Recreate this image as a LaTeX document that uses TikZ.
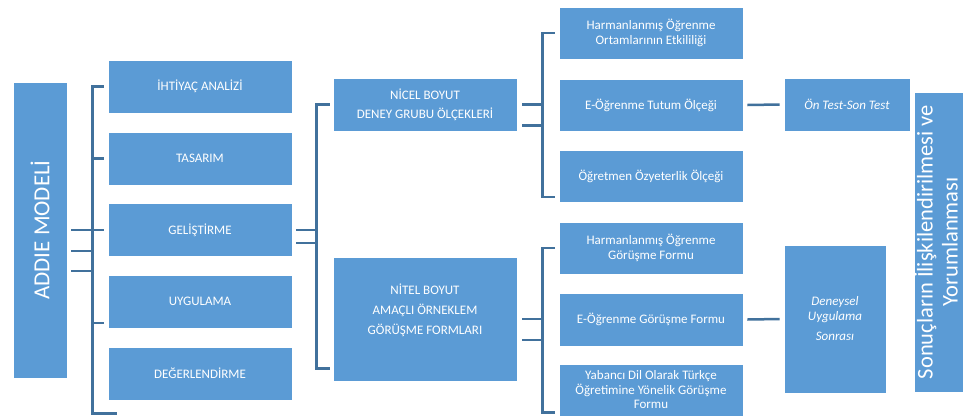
\documentclass[tikz,border=0pt]{standalone}
\usepackage{fontspec}
\setmainfont{Carlito}
\usetikzlibrary{calc}
\definecolor{boxblue}{HTML}{5B9BD5}
\definecolor{lineblue}{HTML}{41719C}
\begin{document}
\begin{tikzpicture}[x=1pt,y=1pt,
  box/.style={fill=boxblue, draw=white, line width=0.6pt, text=white, inner sep=2pt,
    align=center, font=\fontsize{13}{15}\selectfont},
  conn/.style={draw=lineblue, line width=2.5pt}]
\fill[white] (0,0) rectangle (963,-416);
\useasboundingbox (0,0) rectangle (963,-416);

% left column
\node[box, rotate=90, minimum width=296pt, minimum height=54pt,
  font=\fontsize{23}{26}\selectfont] (addie) at (40,-230) {ADDIE MODELİ};
\node[box, minimum width=184pt, minimum height=53pt] (ihtiyac) at (200,-86.5) {İHTİYAÇ ANALİZİ};
\node[box, minimum width=184pt, minimum height=53pt] (tasarim) at (200,-158.5) {TASARIM};
\node[box, minimum width=184pt, minimum height=53pt] (gelistirme) at (200,-230) {GELİŞTİRME};
\node[box, minimum width=184pt, minimum height=53pt] (uygulama) at (200,-301.5) {UYGULAMA};
\node[box, minimum width=184pt, minimum height=53pt] (degerlendirme) at (200,-373.5) {DEĞERLENDİRME};

% middle column
\node[box, minimum width=184pt, minimum height=53pt, font=\fontsize{13}{19}\selectfont]
  (nicel) at (425,-104.5) {NİCEL BOYUT\\DENEY GRUBU ÖLÇEKLERİ};
\node[box, minimum width=184pt, minimum height=124pt, font=\fontsize{13}{20}\selectfont]
  (nitel) at (425,-319) {NİTEL BOYUT\\AMAÇLI ÖRNEKLEM\\GÖRÜŞME FORMLARI\\\phantom{X}};

% right column
\node[box, minimum width=184pt, minimum height=52pt, font=\fontsize{13}{14.5}\selectfont]
  (harm1) at (651,-33) {Harmanlanmış Öğrenme\\Ortamlarının Etkililiği};
\node[box, minimum width=184pt, minimum height=52pt] (tutum) at (651,-105) {E-Öğrenme Tutum Ölçeği};
\node[box, minimum width=184pt, minimum height=52pt] (ozyet) at (651,-176.5) {Öğretmen Özyeterlik Ölçeği};
\node[box, minimum width=184pt, minimum height=52pt, font=\fontsize{13}{14.5}\selectfont]
  (harm2) at (651,-248) {Harmanlanmış Öğrenme\\Görüşme Formu};
\node[box, minimum width=184pt, minimum height=53pt] (egorusme) at (651,-319.5) {E-Öğrenme Görüşme Formu};
\node[box, minimum width=184pt, minimum height=52pt, font=\fontsize{13}{14.5}\selectfont]
  (yabanci) at (651,-390) {Yabancı Dil Olarak Türkçe\\Öğretimine Yönelik Görüşme\\Formu};

% far right
\node[box, minimum width=126pt, minimum height=53pt, font=\fontsize{13}{15}\itshape]
  (ontest) at (847,-104.5) {Ön Test-Son Test};
\node[box, minimum width=102pt, minimum height=148pt, font=\fontsize{13}{15}\itshape]
  (deneysel) at (835,-319) {Deneysel\\Uygulama\\[5pt]Sonrası};
\node[box, minimum width=50pt, minimum height=300pt, inner sep=0pt] (sonuc) at (939,-242) {};
\node[rotate=90, text=white, align=center, inner sep=0pt,
  font=\fontsize{22.5}{25}\selectfont] (sonuctext) at ($(sonuc.center)+(-3,0)$)
  {Sonuçların İlişkilendirilmesi ve\\Yorumlanması};

% ADDIE -> bracket 1
\draw[conn] ($(addie.south)+(4,0)$) -- ++(22,0);
\draw[conn] ($(addie.south)+(4,-21)$) -- ++(22,0);
\draw[conn] ($(addie.south)+(4,-41)$) -- ++(22,0);
% bracket 1
\draw[conn] ($(ihtiyac.west)+(-4,0)$) -- ($(ihtiyac.west)+(-15,0)$)
  -- ($(degerlendirme.south west)+(-15,-13)$) -- ($(degerlendirme.south west)+(9,-13)$);
\draw[conn] ($(tasarim.west)+(-4,0)$) -- ($(tasarim.west)+(-15,0)$);
\draw[conn] ($(gelistirme.west)+(-4,0)$) -- ($(gelistirme.west)+(-15,0)$);
\draw[conn] ($(uygulama.west)+(-4,-21.5)$) -- ($(uygulama.west)+(-15,-21.5)$);

% GELISTIRME -> bracket 2
\draw[conn] ($(gelistirme.east)+(4,0)$) -- ++(21,0);
\draw[conn] ($(gelistirme.east)+(4,-13)$) -- ++(21,0);
\draw[conn] ($(nicel.west)+(-3,0)$) -- ($(nicel.west)+(-16,0)$)
  -- ($(nitel.south west)+(-16,13)$) -- ($(nitel.south west)+(-3,13)$);

% NICEL -> bracket 3
\draw[conn] ($(nicel.east)+(5,0)$) -- ++(21,0);
\draw[conn] ($(nicel.east)+(5,-21)$) -- ++(21,0);
\draw[conn] ($(harm1.west)+(-4,0)$) -- ($(harm1.west)+(-16,0)$)
  -- ($(ozyet.south west)+(-16,6)$) -- ($(ozyet.south west)+(-4,6)$);

% NITEL -> bracket 4
\draw[conn] ($(nitel.east)+(5,0)$) -- ++(21,0);
\draw[conn] ($(nitel.east)+(5,-21)$) -- ++(21,0);
\draw[conn] ($(harm2.west)+(-4,0)$) -- ($(harm2.west)+(-16,0)$)
  -- ($(yabanci.south west)+(-16,4)$) -- ($(yabanci.south west)+(-4,4)$);

% to far right
\draw[conn] ($(tutum.east)+(4,0)$) -- ($(ontest.west)+(-4,0)$);
\draw[conn] ($(egorusme.east)+(4,0)$) -- ($(deneysel.west)+(-4,0)$);
\end{tikzpicture}
\end{document}
